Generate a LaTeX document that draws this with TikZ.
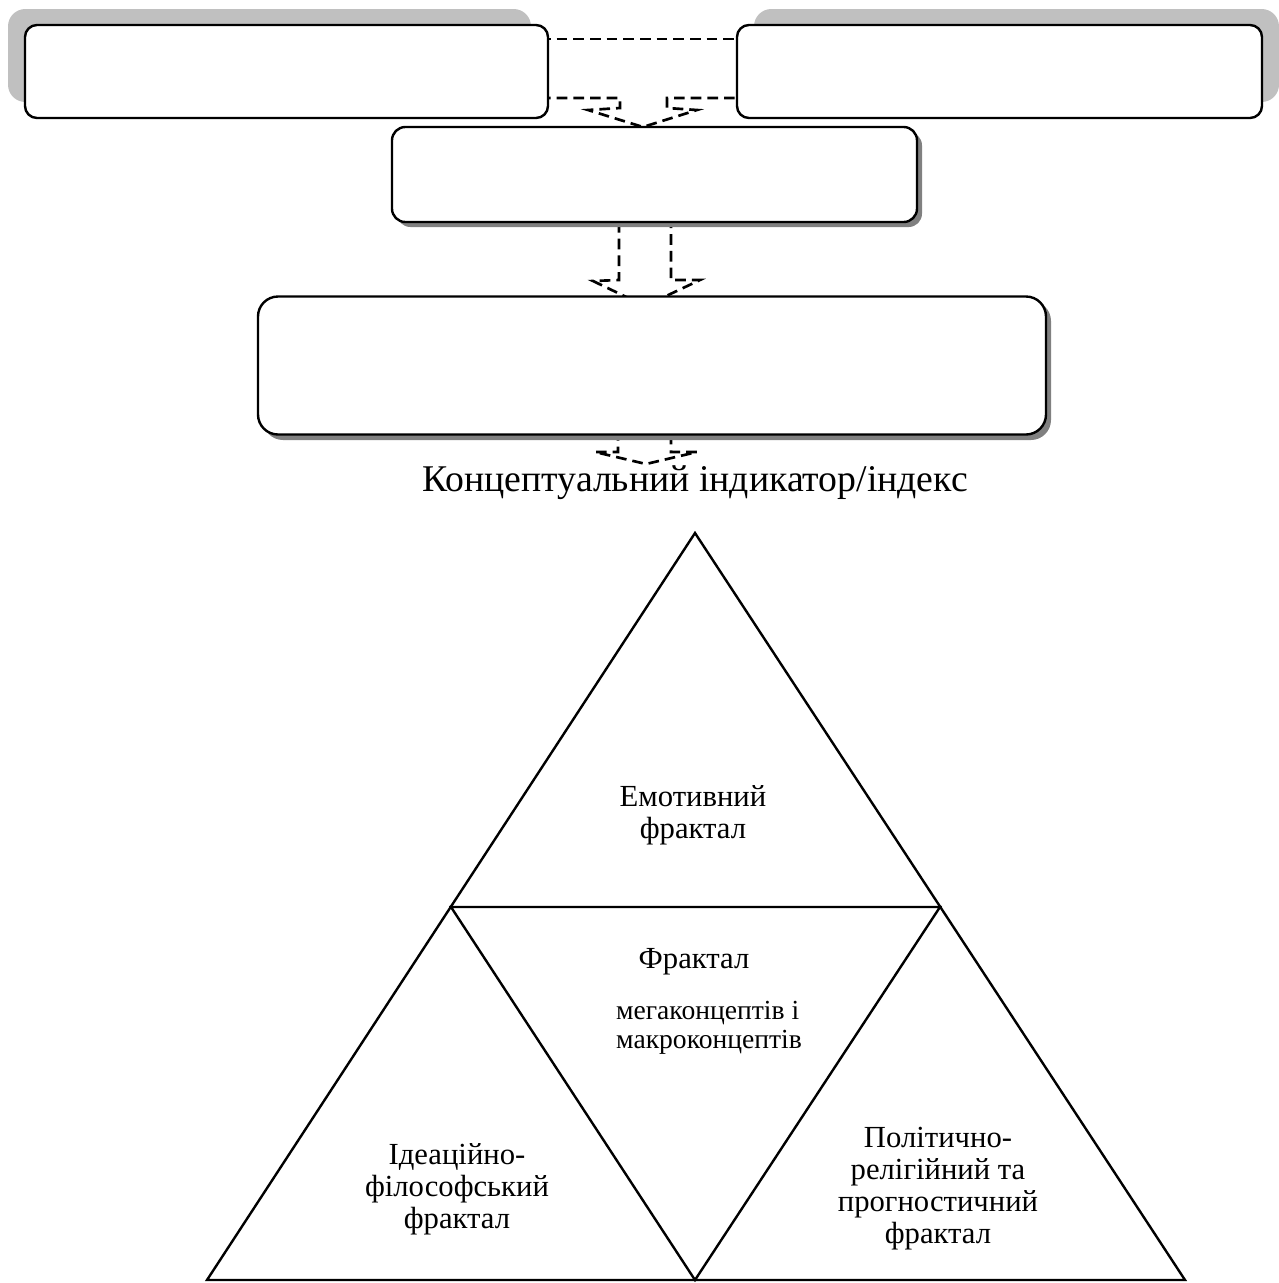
\documentclass[tikz,border=0pt]{standalone}
\usepackage{fontspec}
\setmainfont{Liberation Serif}

\tikzset{every picture/.style={line width=1.8pt}}
\tikzset{
  roundbox/.style={draw, fill=white, rounded corners=9pt, inner sep=0pt},
  dashline/.style={dash pattern=on 8pt off 4.5pt, line width=2pt},
  fractext/.style={inner sep=0.75pt, align=center, font=\fontsize{23}{24}\selectfont},
}

\begin{document}
\begin{tikzpicture}[x=0.75pt,y=0.75pt,yscale=-1,xscale=1]
	%set diagram from (0,0) to (1279,1283)
	\path[use as bounding box] (0,0) rectangle (1279,1283);

	%Shape: Shadow of top boxes
	\fill [fill={rgb, 255:red, 192; green, 192; blue, 192 }, rounded corners=13pt] (8,9) rectangle (531,102) ;
	\fill [fill={rgb, 255:red, 192; green, 192; blue, 192 }, rounded corners=13pt] (754,9) rectangle (1279,102) ;

	%Dashed block arrow: top boxes -> middle box
	\draw [dashline] (540,39) -- (745,39) ;
	\draw [dashline] (540,98) -- (620,98) -- (620,108) -- (588,110) -- (643,127) -- (697,110) -- (667,108) -- (667,98) -- (745,98) ;
	%Dashed block arrow: middle box -> large box
	\draw [dashline] (619,222) -- (619,280) -- (593,281) -- (645,306) -- (700,280) -- (671,280) -- (671,222) ;
	%Dashed block arrow: large box -> indicator
	\draw [dashline] (618,430) -- (618,452) -- (595,452) -- (646,464) -- (697,452) -- (671,452) -- (671,430) ;

	%Shape: Rounded Rect (top left)
	\draw (286.5,71.5) node (boxtl) [roundbox, minimum width=392.25pt, minimum height=69.75pt] {} ;
	%Shape: Rounded Rect (top right)
	\draw (999.5,71.5) node (boxtr) [roundbox, minimum width=393.75pt, minimum height=69.75pt] {} ;

	%Shape: Shadow of middle box
	\fill [fill={rgb, 255:red, 128; green, 128; blue, 128 }, rounded corners=10pt] (397,132) rectangle (922,227) ;
	%Shape: Rounded Rect (middle)
	\draw (654.5,174.5) node (boxmid) [roundbox, rounded corners=10pt, minimum width=393.75pt, minimum height=71.25pt] {} ;

	%Shape: Shadow of large box
	\fill [fill={rgb, 255:red, 128; green, 128; blue, 128 }, rounded corners=15pt] (263,301) rectangle (1051,440) ;
	%Shape: Rounded Rect (large)
	\draw (652,365.5) node (boxbig) [roundbox, rounded corners=15pt, minimum width=591pt, minimum height=103.5pt] {} ;

	% Text Node
	\draw (695,491) node (indic) [anchor=base][inner sep=0.75pt] {\fontsize{28.3}{32}\selectfont Концептуальний індикатор/індекс} ;

	%Triangle
	\coordinate (apex) at (695,533) ;
	\coordinate (botl) at (207,1280) ;
	\coordinate (botr) at (1185,1280) ;
	\coordinate (midl) at (451,907) ;
	\coordinate (midr) at (940,907) ;
	\coordinate (midb) at (695,1280) ;
	\draw (apex) -- (botr) -- (botl) -- cycle ;
	\draw (midl) -- (midr) -- (midb) -- cycle ;

	% Text Node
	\draw (693,815) node (emot) [fractext] {Емотивний\\фрактал} ;
	% Text Node
	\draw (694,962) node (fract) [fractext] {Фрактал} ;
	% Text Node
	\draw (614,1028) node (mega) [fractext, anchor=west, align=left, font=\fontsize{20.7}{22}\selectfont] {мегаконцептів і\\макроконцептів} ;
	% Text Node
	\draw (457,1189) node (idea) [fractext] {Ідеаційно-\\філософський\\фрактал} ;
	% Text Node
	\draw (938,1189) node (polit) [fractext] {Політично-\\релігійний та\\прогностичний\\фрактал} ;

\end{tikzpicture}
\end{document}
